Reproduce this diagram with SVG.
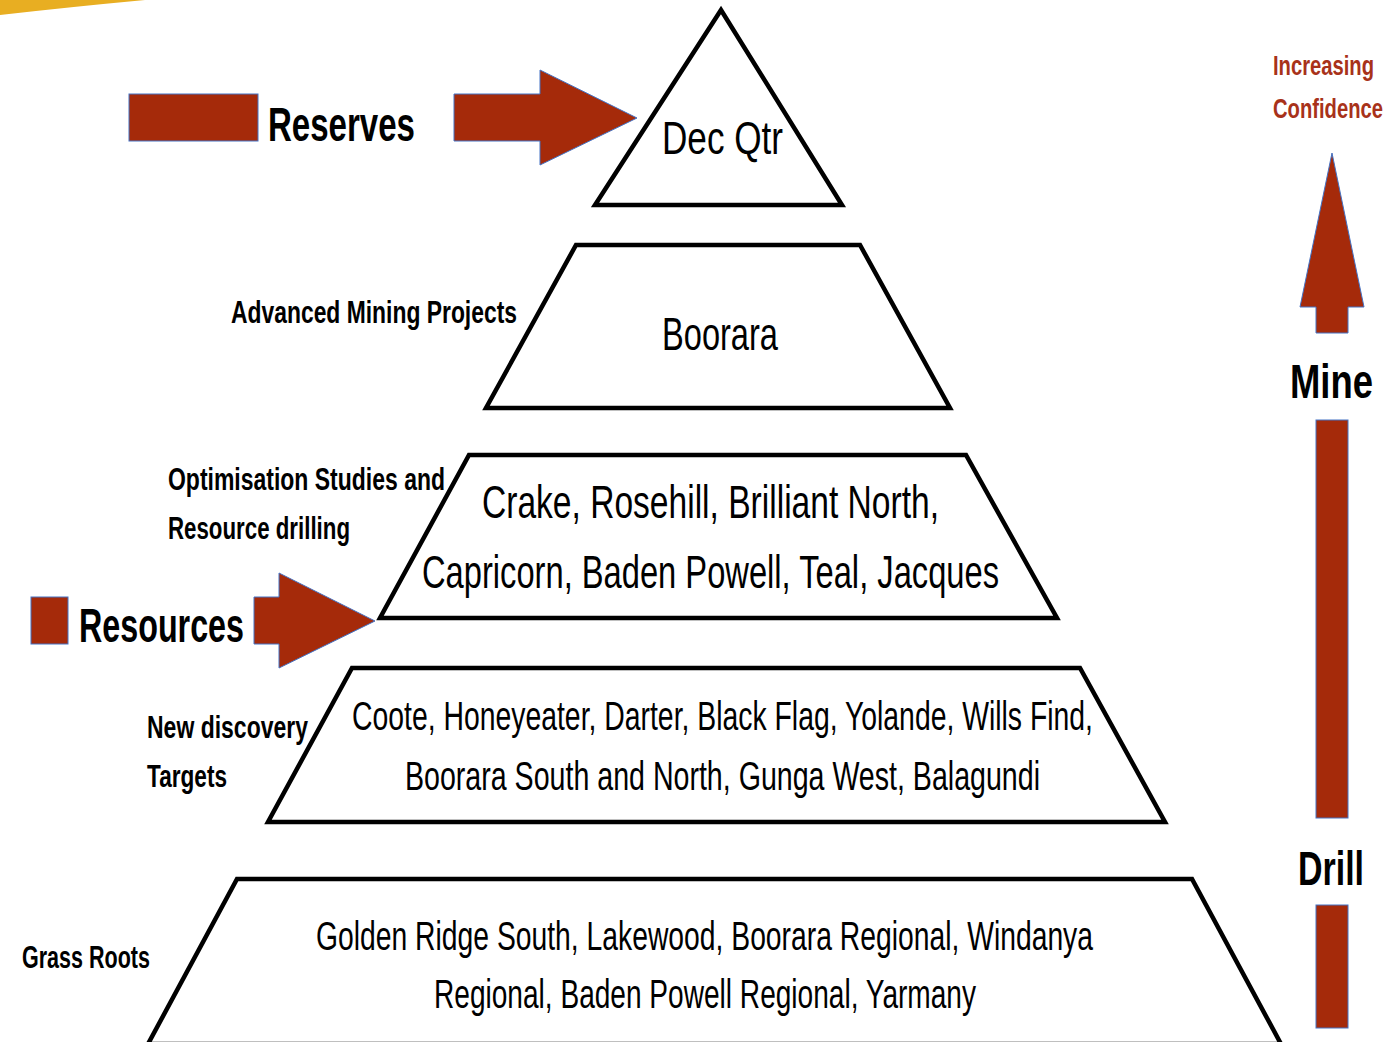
<svg xmlns="http://www.w3.org/2000/svg" width="1388" height="1042" viewBox="0 0 1388 1042">
<style>
.lvl{fill:#fff;stroke:#000;stroke-width:4.5;stroke-linejoin:miter}
.red{fill:#A52A0A;stroke:#4472C4;stroke-width:1}
.t{font-family:"Liberation Sans Narrow","Liberation Sans","DejaVu Sans Condensed",sans-serif;fill:#000}
.in{font-size:33.3px}
.in2{font-size:29px}
.lab{font-size:22.5px;font-weight:bold}
.big{font-size:34.8px;font-weight:bold}
.conf{font-size:19.6px;font-weight:bold;fill:#A8321A}
</style>
<rect width="1388" height="1042" fill="#fff"/>
<path d="M0,0 L145,0 Q70,7 0,15 Z" fill="#E8AE22"/>

<g id="connectors">
  <polygon class="red" points="454,94 540,94 540,70 637,118 540,165 540,141 454,141"/>
  <polygon class="red" points="254,597 279,597 279,573 375,621 279,668 279,644 254,644"/>
  <polygon class="red" points="1332,153 1364,307 1348,307 1348,333 1316,333 1316,307 1300,307"/>
  <rect class="red" x="1316" y="420" width="32" height="398"/>
  <rect class="red" x="1316" y="905" width="32" height="123"/>
</g>

<g id="reserves">
  <rect class="red" x="129" y="94" width="129" height="47"/>
  <text class="t big" transform="translate(268,141) scale(1,1.38)" textLength="147" lengthAdjust="spacingAndGlyphs">Reserves</text>
</g>
<g id="resources">
  <rect class="red" x="31" y="597" width="37" height="47"/>
  <text class="t big" transform="translate(79,642) scale(1,1.38)" textLength="165" lengthAdjust="spacingAndGlyphs">Resources</text>
</g>

<g id="level1">
  <polygon class="lvl" points="721,10 842,205 595,205"/>
  <text class="t in" transform="translate(662,154) scale(1,1.38)" textLength="121" lengthAdjust="spacingAndGlyphs">Dec Qtr</text>
</g>
<g id="level2">
  <polygon class="lvl" points="576,245 860,245 950,408 486,408"/>
  <text class="t in" transform="translate(662,350) scale(1,1.38)" textLength="116" lengthAdjust="spacingAndGlyphs">Boorara</text>
  <text class="t lab" transform="translate(231,323) scale(1,1.38)" textLength="286" lengthAdjust="spacingAndGlyphs">Advanced Mining Projects</text>
</g>
<g id="level3">
  <polygon class="lvl" points="469,455 966,455 1057,618 380,618"/>
  <text class="t in" transform="translate(482,518) scale(1,1.38)" textLength="457" lengthAdjust="spacingAndGlyphs">Crake, Rosehill, Brilliant North,</text>
  <text class="t in" transform="translate(422,588) scale(1,1.38)" textLength="577" lengthAdjust="spacingAndGlyphs">Capricorn, Baden Powell, Teal, Jacques</text>
  <text class="t lab" transform="translate(168,490) scale(1,1.38)" textLength="277" lengthAdjust="spacingAndGlyphs">Optimisation Studies and</text>
  <text class="t lab" transform="translate(168,539) scale(1,1.38)" textLength="182" lengthAdjust="spacingAndGlyphs">Resource drilling</text>
</g>
<g id="level4">
  <polygon class="lvl" points="352,668 1080,668 1165,822 268,822"/>
  <text class="t in2" transform="translate(352,730) scale(1,1.38)" textLength="741" lengthAdjust="spacingAndGlyphs">Coote, Honeyeater, Darter, Black Flag, Yolande, Wills Find,</text>
  <text class="t in2" transform="translate(405,790) scale(1,1.38)" textLength="635" lengthAdjust="spacingAndGlyphs">Boorara South and North, Gunga West, Balagundi</text>
  <text class="t lab" transform="translate(147,738) scale(1,1.38)" textLength="161" lengthAdjust="spacingAndGlyphs">New discovery</text>
  <text class="t lab" transform="translate(147,787) scale(1,1.38)" textLength="80" lengthAdjust="spacingAndGlyphs">Targets</text>
</g>
<g id="level5">
  <polygon class="lvl" points="237,879 1192,879 1281,1044 148,1044"/>
  <text class="t in2" transform="translate(316,950) scale(1,1.38)" textLength="777" lengthAdjust="spacingAndGlyphs">Golden Ridge South, Lakewood, Boorara Regional, Windanya</text>
  <text class="t in2" transform="translate(434,1008) scale(1,1.38)" textLength="542" lengthAdjust="spacingAndGlyphs">Regional, Baden Powell Regional, Yarmany</text>
  <text class="t lab" transform="translate(22,968) scale(1,1.38)" textLength="128" lengthAdjust="spacingAndGlyphs">Grass Roots</text>
</g>

<g id="confidence">
  <text class="t conf" transform="translate(1273,75) scale(1,1.38)" textLength="101" lengthAdjust="spacingAndGlyphs">Increasing</text>
  <text class="t conf" transform="translate(1273,118) scale(1,1.38)" textLength="110" lengthAdjust="spacingAndGlyphs">Confidence</text>
</g>
<g id="mine">
  <text class="t big" transform="translate(1290,398) scale(1,1.38)" textLength="83" lengthAdjust="spacingAndGlyphs">Mine</text>
</g>
<g id="drill">
  <text class="t big" transform="translate(1298,885) scale(1,1.38)" textLength="66" lengthAdjust="spacingAndGlyphs">Drill</text>
</g>
</svg>
